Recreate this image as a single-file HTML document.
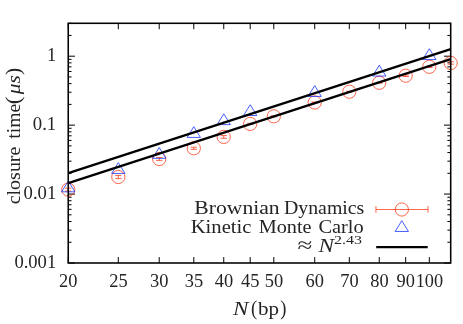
<!DOCTYPE html><html><head><meta charset="utf-8"><style>html,body{margin:0;padding:0;background:#fff}svg{display:block}text{font-family:"Liberation Serif",serif;fill:#242424}</style></head><body>
<svg style="will-change:transform" width="463" height="324" viewBox="0 0 463 324">
<rect width="463" height="324" fill="#fff"/>
<path d="M68.25 263.0 v-5.9 M68.25 23.3 v5.9 M118.31 263.0 v-5.9 M118.31 23.3 v5.9 M159.21 263.0 v-5.9 M159.21 23.3 v5.9 M193.80 263.0 v-5.9 M193.80 23.3 v5.9 M223.75 263.0 v-5.9 M223.75 23.3 v5.9 M250.18 263.0 v-5.9 M250.18 23.3 v5.9 M273.81 263.0 v-5.9 M273.81 23.3 v5.9 M314.72 263.0 v-5.9 M314.72 23.3 v5.9 M349.30 263.0 v-5.9 M349.30 23.3 v5.9 M379.26 263.0 v-5.9 M379.26 23.3 v5.9 M405.68 263.0 v-5.9 M405.68 23.3 v5.9 M429.32 263.0 v-5.9 M429.32 23.3 v5.9 M68.25 263.00 h6.7 M450.7 263.00 h-6.7 M68.25 242.25 h3.3 M450.7 242.25 h-3.3 M68.25 230.11 h3.3 M450.7 230.11 h-3.3 M68.25 221.50 h3.3 M450.7 221.50 h-3.3 M68.25 214.82 h3.3 M450.7 214.82 h-3.3 M68.25 209.36 h3.3 M450.7 209.36 h-3.3 M68.25 204.74 h3.3 M450.7 204.74 h-3.3 M68.25 200.74 h3.3 M450.7 200.74 h-3.3 M68.25 197.22 h3.3 M450.7 197.22 h-3.3 M68.25 194.06 h6.7 M450.7 194.06 h-6.7 M68.25 173.31 h3.3 M450.7 173.31 h-3.3 M68.25 161.17 h3.3 M450.7 161.17 h-3.3 M68.25 152.56 h3.3 M450.7 152.56 h-3.3 M68.25 145.88 h3.3 M450.7 145.88 h-3.3 M68.25 140.42 h3.3 M450.7 140.42 h-3.3 M68.25 135.81 h3.3 M450.7 135.81 h-3.3 M68.25 131.81 h3.3 M450.7 131.81 h-3.3 M68.25 128.28 h3.3 M450.7 128.28 h-3.3 M68.25 125.13 h6.7 M450.7 125.13 h-6.7 M68.25 104.38 h3.3 M450.7 104.38 h-3.3 M68.25 92.24 h3.3 M450.7 92.24 h-3.3 M68.25 83.62 h3.3 M450.7 83.62 h-3.3 M68.25 76.94 h3.3 M450.7 76.94 h-3.3 M68.25 71.48 h3.3 M450.7 71.48 h-3.3 M68.25 66.87 h3.3 M450.7 66.87 h-3.3 M68.25 62.87 h3.3 M450.7 62.87 h-3.3 M68.25 59.35 h3.3 M450.7 59.35 h-3.3 M68.25 56.19 h6.7 M450.7 56.19 h-6.7 M68.25 35.44 h3.3 M450.7 35.44 h-3.3 M68.25 23.30 h3.3 M450.7 23.30 h-3.3" stroke="#000" stroke-width="1" fill="none"/>
<path d="M68.25 188.15 V191.05 M65.05 188.15 h6.4 M65.05 191.05 h6.4" stroke="#ff3311" stroke-width="0.75" fill="none"/>
<circle cx="68.25" cy="189.60" r="6.62" fill="none" stroke="#ff3311" stroke-width="0.75"/>
<path d="M118.31 175.40 V178.60 M115.11 175.40 h6.4 M115.11 178.60 h6.4" stroke="#ff3311" stroke-width="0.75" fill="none"/>
<circle cx="118.31" cy="177.00" r="6.62" fill="none" stroke="#ff3311" stroke-width="0.75"/>
<path d="M159.21 157.60 V160.40 M156.01 157.60 h6.4 M156.01 160.40 h6.4" stroke="#ff3311" stroke-width="0.75" fill="none"/>
<circle cx="159.21" cy="159.00" r="6.62" fill="none" stroke="#ff3311" stroke-width="0.75"/>
<path d="M193.80 147.25 V149.35 M190.60 147.25 h6.4 M190.60 149.35 h6.4" stroke="#ff3311" stroke-width="0.75" fill="none"/>
<circle cx="193.80" cy="148.30" r="6.62" fill="none" stroke="#ff3311" stroke-width="0.75"/>
<path d="M223.75 135.55 V138.25 M220.55 135.55 h6.4 M220.55 138.25 h6.4" stroke="#ff3311" stroke-width="0.75" fill="none"/>
<circle cx="223.75" cy="136.90" r="6.62" fill="none" stroke="#ff3311" stroke-width="0.75"/>
<path d="M250.18 123.30 V124.50 M246.98 123.30 h6.4 M246.98 124.50 h6.4" stroke="#ff3311" stroke-width="0.75" fill="none"/>
<circle cx="250.18" cy="123.90" r="6.62" fill="none" stroke="#ff3311" stroke-width="0.75"/>
<path d="M273.81 115.80 V116.80 M270.61 115.80 h6.4 M270.61 116.80 h6.4" stroke="#ff3311" stroke-width="0.75" fill="none"/>
<circle cx="273.81" cy="116.30" r="6.62" fill="none" stroke="#ff3311" stroke-width="0.75"/>
<path d="M314.72 102.00 V103.00 M311.52 102.00 h6.4 M311.52 103.00 h6.4" stroke="#ff3311" stroke-width="0.75" fill="none"/>
<circle cx="314.72" cy="102.50" r="6.62" fill="none" stroke="#ff3311" stroke-width="0.75"/>
<path d="M349.30 91.30 V92.10 M346.10 91.30 h6.4 M346.10 92.10 h6.4" stroke="#ff3311" stroke-width="0.75" fill="none"/>
<circle cx="349.30" cy="91.70" r="6.62" fill="none" stroke="#ff3311" stroke-width="0.75"/>
<path d="M379.26 82.40 V83.20 M376.06 82.40 h6.4 M376.06 83.20 h6.4" stroke="#ff3311" stroke-width="0.75" fill="none"/>
<circle cx="379.26" cy="82.80" r="6.62" fill="none" stroke="#ff3311" stroke-width="0.75"/>
<path d="M405.68 74.90 V76.50 M402.48 74.90 h6.4 M402.48 76.50 h6.4" stroke="#ff3311" stroke-width="0.75" fill="none"/>
<circle cx="405.68" cy="75.70" r="6.62" fill="none" stroke="#ff3311" stroke-width="0.75"/>
<path d="M429.32 66.10 V67.50 M426.12 66.10 h6.4 M426.12 67.50 h6.4" stroke="#ff3311" stroke-width="0.75" fill="none"/>
<circle cx="429.32" cy="66.80" r="6.62" fill="none" stroke="#ff3311" stroke-width="0.75"/>
<path d="M450.70 61.80 V64.20 M447.50 61.80 h6.4 M447.50 64.20 h6.4" stroke="#ff3311" stroke-width="0.75" fill="none"/>
<circle cx="450.70" cy="63.00" r="6.62" fill="none" stroke="#ff3311" stroke-width="0.75"/>
<path d="M68.25 181.05 l-6.65 10.77 h13.30 Z" fill="none" stroke="#0a28ff" stroke-width="0.75" stroke-linejoin="miter"/><circle cx="68.25" cy="188.50" r="0.4" fill="#0a28ff" fill-opacity="0.5"/>
<path d="M118.31 162.65 l-6.65 10.77 h13.30 Z" fill="none" stroke="#0a28ff" stroke-width="0.75" stroke-linejoin="miter"/><circle cx="118.31" cy="170.10" r="0.4" fill="#0a28ff" fill-opacity="0.5"/>
<path d="M159.21 147.55 l-6.65 10.77 h13.30 Z" fill="none" stroke="#0a28ff" stroke-width="0.75" stroke-linejoin="miter"/><circle cx="159.21" cy="155.00" r="0.4" fill="#0a28ff" fill-opacity="0.5"/>
<path d="M193.80 126.65 l-6.65 10.77 h13.30 Z" fill="none" stroke="#0a28ff" stroke-width="0.75" stroke-linejoin="miter"/><circle cx="193.80" cy="134.10" r="0.4" fill="#0a28ff" fill-opacity="0.5"/>
<path d="M223.75 113.85 l-6.65 10.77 h13.30 Z" fill="none" stroke="#0a28ff" stroke-width="0.75" stroke-linejoin="miter"/><circle cx="223.75" cy="121.30" r="0.4" fill="#0a28ff" fill-opacity="0.5"/>
<path d="M250.18 104.75 l-6.65 10.77 h13.30 Z" fill="none" stroke="#0a28ff" stroke-width="0.75" stroke-linejoin="miter"/><circle cx="250.18" cy="112.20" r="0.4" fill="#0a28ff" fill-opacity="0.5"/>
<path d="M314.72 85.65 l-6.65 10.77 h13.30 Z" fill="none" stroke="#0a28ff" stroke-width="0.75" stroke-linejoin="miter"/><circle cx="314.72" cy="93.10" r="0.4" fill="#0a28ff" fill-opacity="0.5"/>
<path d="M379.26 65.25 l-6.65 10.77 h13.30 Z" fill="none" stroke="#0a28ff" stroke-width="0.75" stroke-linejoin="miter"/><circle cx="379.26" cy="72.70" r="0.4" fill="#0a28ff" fill-opacity="0.5"/>
<path d="M429.32 48.75 l-6.65 10.77 h13.30 Z" fill="none" stroke="#0a28ff" stroke-width="0.75" stroke-linejoin="miter"/><circle cx="429.32" cy="56.20" r="0.4" fill="#0a28ff" fill-opacity="0.5"/>
<line x1="68.25" y1="173.15" x2="450.7" y2="49.13" stroke="#000" stroke-width="2.3"/>
<line x1="68.25" y1="183.20" x2="450.7" y2="59.18" stroke="#000" stroke-width="2.3"/>
<rect x="68.25" y="23.3" width="382.45" height="239.7" fill="none" stroke="#000" stroke-width="1.55"/>
<path d="M375.95 209.5 H428 M375.95 206.1 v6.7 M428 206.1 v6.7" stroke="#ff3311" stroke-width="0.75" fill="none"/>
<circle cx="401.85" cy="209.50" r="6.62" fill="none" stroke="#ff3311" stroke-width="0.75"/>
<path d="M401.80 220.70 l-6.65 10.77 h13.30 Z" fill="none" stroke="#0a28ff" stroke-width="0.75" stroke-linejoin="miter"/><circle cx="401.80" cy="228.15" r="0.4" fill="#0a28ff" fill-opacity="0.5"/>
<line x1="376.2" y1="247.05" x2="427.7" y2="247.05" stroke="#000" stroke-width="2.2"/>
<g style="filter:grayscale(1)">
<text x="59.1" y="287" font-size="18" text-anchor="start" textLength="18.4" lengthAdjust="spacingAndGlyphs" >20</text>
<text x="109.2" y="287" font-size="18" text-anchor="start" textLength="18.4" lengthAdjust="spacingAndGlyphs" >25</text>
<text x="150.1" y="287" font-size="18" text-anchor="start" textLength="18.4" lengthAdjust="spacingAndGlyphs" >30</text>
<text x="184.7" y="287" font-size="18" text-anchor="start" textLength="18.4" lengthAdjust="spacingAndGlyphs" >35</text>
<text x="214.7" y="287" font-size="18" text-anchor="start" textLength="18.4" lengthAdjust="spacingAndGlyphs" >40</text>
<text x="241.1" y="287" font-size="18" text-anchor="start" textLength="18.4" lengthAdjust="spacingAndGlyphs" >45</text>
<text x="264.7" y="287" font-size="18" text-anchor="start" textLength="18.4" lengthAdjust="spacingAndGlyphs" >50</text>
<text x="305.6" y="287" font-size="18" text-anchor="start" textLength="18.4" lengthAdjust="spacingAndGlyphs" >60</text>
<text x="340.2" y="287" font-size="18" text-anchor="start" textLength="18.4" lengthAdjust="spacingAndGlyphs" >70</text>
<text x="370.2" y="287" font-size="18" text-anchor="start" textLength="18.4" lengthAdjust="spacingAndGlyphs" >80</text>
<text x="396.6" y="287" font-size="18" text-anchor="start" textLength="18.4" lengthAdjust="spacingAndGlyphs" >90</text>
<text x="415.7" y="287" font-size="18" text-anchor="start" textLength="27.4" lengthAdjust="spacingAndGlyphs" >100</text>
<text x="47.0" y="60.7" font-size="18" text-anchor="start" textLength="9.2" lengthAdjust="spacingAndGlyphs" >1</text>
<text x="32.8" y="129.7" font-size="18" text-anchor="start" textLength="23.4" lengthAdjust="spacingAndGlyphs" >0.1</text>
<text x="23.6" y="198.6" font-size="18" text-anchor="start" textLength="32.6" lengthAdjust="spacingAndGlyphs" >0.01</text>
<text x="14.4" y="267.6" font-size="18" text-anchor="start" textLength="41.8" lengthAdjust="spacingAndGlyphs" >0.001</text>
<text x="194.3" y="213.9" font-size="18.5" text-anchor="start" textLength="85.4" lengthAdjust="spacingAndGlyphs" >Brownian</text>
<text x="284.0" y="213.9" font-size="18.5" text-anchor="start" textLength="80.3" lengthAdjust="spacingAndGlyphs" >Dynamics</text>
<text x="190.7" y="232.6" font-size="18.5" text-anchor="start" textLength="60.8" lengthAdjust="spacingAndGlyphs" >Kinetic</text>
<text x="258.7" y="232.6" font-size="18.5" text-anchor="start" textLength="52.9" lengthAdjust="spacingAndGlyphs" >Monte</text>
<text x="318.4" y="232.6" font-size="18.5" text-anchor="start" textLength="45.3" lengthAdjust="spacingAndGlyphs" >Carlo</text>
<text x="297.4" y="252.3" font-size="21" text-anchor="start" textLength="14.8" lengthAdjust="spacingAndGlyphs" >≈</text>
<text x="318.6" y="251.5" font-size="18.5" text-anchor="start" textLength="15.5" lengthAdjust="spacingAndGlyphs" font-style="italic">N</text>
<text x="334.0" y="244.3" font-size="11.5" text-anchor="start" textLength="28" lengthAdjust="spacingAndGlyphs" >2.43</text>
<text x="233.0" y="314.6" font-size="18.5" text-anchor="start" textLength="15.5" lengthAdjust="spacingAndGlyphs" font-style="italic">N</text>
<text x="250.9" y="314.6" font-size="21.8" text-anchor="start" textLength="6.2" lengthAdjust="spacingAndGlyphs" >(</text>
<text x="258.0" y="314.6" font-size="18.5" text-anchor="start" textLength="21.0" lengthAdjust="spacingAndGlyphs" >bp</text>
<text x="280.2" y="314.6" font-size="21.8" text-anchor="start" textLength="6.2" lengthAdjust="spacingAndGlyphs" >)</text>
<g transform="translate(20.2,204.3) rotate(-90)"><text x="0" y="0" font-size="18.5" text-anchor="start" textLength="57.7" lengthAdjust="spacingAndGlyphs" >closure</text><text x="65.5" y="0" font-size="18.5" text-anchor="start" textLength="35.0" lengthAdjust="spacingAndGlyphs" >time</text><text x="100.0" y="0" font-size="21.8" text-anchor="start" textLength="7.8" lengthAdjust="spacingAndGlyphs" >(</text><text x="110.0" y="0" font-size="18.5" text-anchor="start" textLength="19" lengthAdjust="spacingAndGlyphs" font-style="italic">μs</text><text x="129.2" y="0" font-size="21.8" text-anchor="start" textLength="7.2" lengthAdjust="spacingAndGlyphs" >)</text></g>
</g>
</svg></body></html>
